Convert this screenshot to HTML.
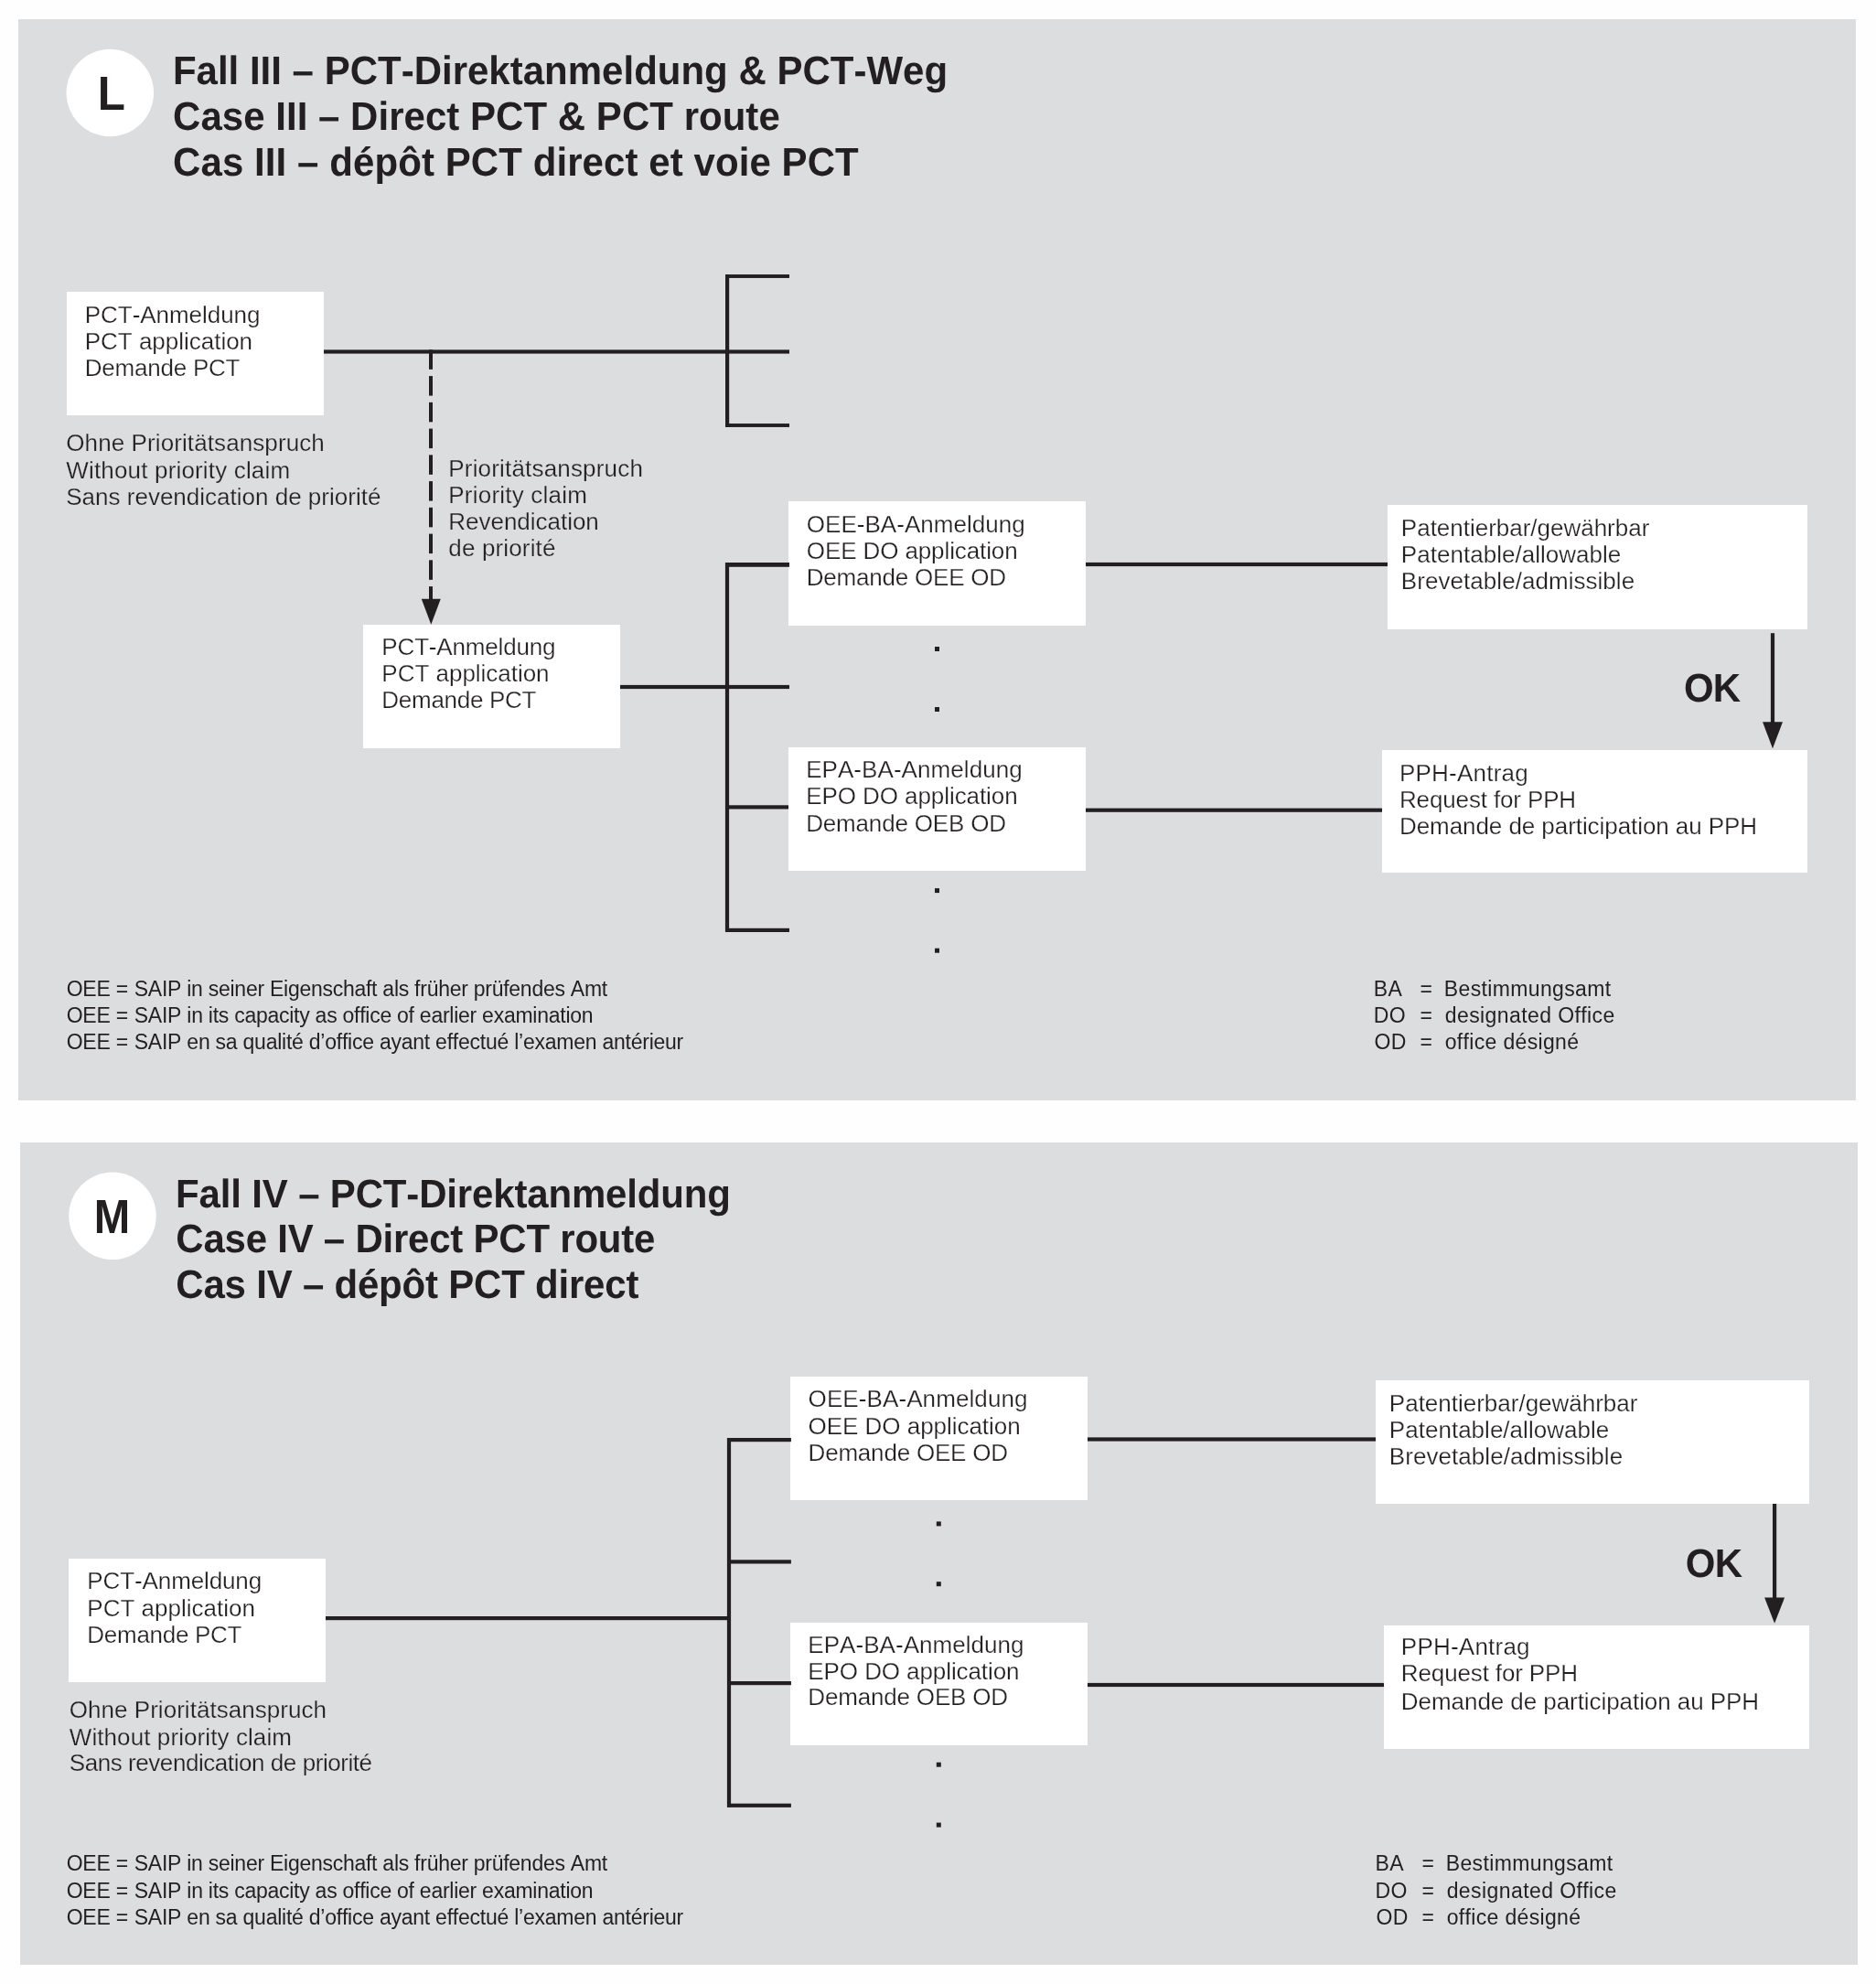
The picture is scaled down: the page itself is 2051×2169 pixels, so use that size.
<!DOCTYPE html>
<html><head><meta charset="utf-8"><title>Fall III / Fall IV</title>
<style>
html,body{margin:0;padding:0;background:#fefefe;}
body{width:2051px;height:2169px;overflow:hidden;}
svg{display:block;will-change:transform;}
text{font-family:"Liberation Sans",sans-serif;fill:#231f20;font-kerning:none;font-variant-ligatures:none;font-feature-settings:"liga" 0,"clig" 0;}
.t{font-size:42px;font-weight:bold;text-rendering:geometricPrecision;}
.big{font-size:52px;font-weight:bold;}
.b{font-size:26px;}
.ok{font-size:42px;font-weight:bold;text-rendering:geometricPrecision;}
.fn{font-size:23px;}
.fr{font-size:23px;}
</style></head>
<body>
<svg width="2051" height="2169" viewBox="0 0 2051 2169">
<rect x="20.00" y="21.00" width="2009.00" height="1182.00" fill="#dcdddf"/>
<rect x="22.00" y="1249.00" width="2009.00" height="899.00" fill="#dcdddf"/>
<rect x="73.00" y="319.00" width="281.00" height="135.00" fill="#ffffff"/>
<rect x="397.00" y="683.00" width="281.00" height="135.00" fill="#ffffff"/>
<rect x="862.00" y="548.00" width="325.00" height="136.00" fill="#ffffff"/>
<rect x="862.00" y="817.00" width="325.00" height="135.00" fill="#ffffff"/>
<rect x="1517.00" y="552.00" width="459.00" height="136.00" fill="#ffffff"/>
<rect x="1511.00" y="820.00" width="465.00" height="134.00" fill="#ffffff"/>
<rect x="75.00" y="1704.00" width="281.00" height="135.00" fill="#ffffff"/>
<rect x="864.00" y="1505.00" width="325.00" height="135.00" fill="#ffffff"/>
<rect x="864.00" y="1774.00" width="325.00" height="134.00" fill="#ffffff"/>
<rect x="1504.00" y="1509.00" width="474.00" height="135.00" fill="#ffffff"/>
<rect x="1513.00" y="1777.00" width="465.00" height="135.00" fill="#ffffff"/>
<circle cx="120.3" cy="101.5" r="47.75" fill="#fff"/>
<text x="121.90" y="119.80" class="big" text-anchor="middle" transform="translate(121.90 0) scale(0.95 1) translate(-121.90 0)">L</text>
<text x="188.89" y="91.80" class="t" transform="matrix(1 0 0 1.04 0 -3.672)" textLength="847.22" lengthAdjust="spacing">Fall III – PCT-Direktanmeldung &amp; PCT-Weg</text>
<text x="189.08" y="141.70" class="t" transform="matrix(1 0 0 1.04 0 -5.668)" textLength="663.66" lengthAdjust="spacing">Case III – Direct PCT &amp; PCT route</text>
<text x="189.08" y="191.70" class="t" transform="matrix(1 0 0 1.04 0 -7.668)" textLength="749.67" lengthAdjust="spacing">Cas III – dépôt PCT direct et voie PCT</text>
<text x="92.77" y="353.20" class="b" stroke="#fff" stroke-width="0.25" textLength="191.71" lengthAdjust="spacing">PCT-Anmeldung</text>
<text x="92.77" y="381.80" class="b" stroke="#fff" stroke-width="0.25" textLength="183.32" lengthAdjust="spacing">PCT application</text>
<text x="92.77" y="410.80" class="b" stroke="#fff" stroke-width="0.25" textLength="169.73" lengthAdjust="spacing">Demande PCT</text>
<text x="72.27" y="492.90" class="b" stroke="#dcdddf" stroke-width="0.25" textLength="282.52" lengthAdjust="spacing">Ohne Prioritätsanspruch</text>
<text x="72.27" y="522.80" class="b" stroke="#dcdddf" stroke-width="0.25" textLength="244.85" lengthAdjust="spacing">Without priority claim</text>
<text x="72.27" y="551.80" class="b" stroke="#dcdddf" stroke-width="0.25" textLength="344.09" lengthAdjust="spacing">Sans revendication de priorité</text>
<rect x="354.00" y="382.40" width="509.00" height="4.20" fill="#231f20"/>
<rect x="793.00" y="300.00" width="4.20" height="167.00" fill="#231f20"/>
<rect x="793.00" y="300.05" width="70.00" height="3.90" fill="#231f20"/>
<rect x="793.00" y="463.05" width="70.00" height="3.90" fill="#231f20"/>
<rect x="469.00" y="382.35" width="4.00" height="21.50" fill="#231f20"/>
<rect x="469.00" y="411.10" width="4.00" height="21.50" fill="#231f20"/>
<rect x="469.00" y="439.85" width="4.00" height="21.50" fill="#231f20"/>
<rect x="469.00" y="468.60" width="4.00" height="21.50" fill="#231f20"/>
<rect x="469.00" y="497.35" width="4.00" height="21.50" fill="#231f20"/>
<rect x="469.00" y="526.10" width="4.00" height="21.50" fill="#231f20"/>
<rect x="469.00" y="554.85" width="4.00" height="21.50" fill="#231f20"/>
<rect x="469.00" y="583.60" width="4.00" height="21.50" fill="#231f20"/>
<rect x="469.00" y="612.35" width="4.00" height="21.50" fill="#231f20"/>
<rect x="469.00" y="641.10" width="4.00" height="14.90" fill="#231f20"/>
<path d="M460.80 654.70 L481.80 654.70 L471.30 682.80 Z" fill="#231f20"/>
<text x="490.27" y="520.60" class="b" stroke="#dcdddf" stroke-width="0.25" textLength="212.62" lengthAdjust="spacing">Prioritätsanspruch</text>
<text x="490.27" y="549.60" class="b" stroke="#dcdddf" stroke-width="0.25" textLength="151.65" lengthAdjust="spacing">Priority claim</text>
<text x="490.27" y="578.60" class="b" stroke="#dcdddf" stroke-width="0.25" textLength="164.52" lengthAdjust="spacing">Revendication</text>
<text x="490.27" y="607.60" class="b" stroke="#dcdddf" stroke-width="0.25" textLength="117.19" lengthAdjust="spacing">de priorité</text>
<text x="417.37" y="715.60" class="b" stroke="#fff" stroke-width="0.25" textLength="190.21" lengthAdjust="spacing">PCT-Anmeldung</text>
<text x="417.37" y="744.60" class="b" stroke="#fff" stroke-width="0.25" textLength="183.22" lengthAdjust="spacing">PCT application</text>
<text x="417.37" y="773.60" class="b" stroke="#fff" stroke-width="0.25" textLength="169.13" lengthAdjust="spacing">Demande PCT</text>
<rect x="678.00" y="748.90" width="185.00" height="4.20" fill="#231f20"/>
<rect x="792.90" y="615.00" width="4.20" height="403.60" fill="#231f20"/>
<rect x="793.00" y="615.00" width="70.00" height="4.80" fill="#231f20"/>
<rect x="793.00" y="880.30" width="69.00" height="4.20" fill="#231f20"/>
<rect x="793.00" y="1014.80" width="70.00" height="4.20" fill="#231f20"/>
<text x="881.77" y="581.50" class="b" stroke="#fff" stroke-width="0.25" textLength="239.01" lengthAdjust="spacing">OEE-BA-Anmeldung</text>
<text x="881.77" y="610.70" class="b" stroke="#fff" stroke-width="0.25" textLength="230.92" lengthAdjust="spacing">OEE DO application</text>
<text x="881.77" y="639.60" class="b" stroke="#fff" stroke-width="0.25" textLength="218.28" lengthAdjust="spacing">Demande OEE OD</text>
<text x="881.17" y="849.70" class="b" stroke="#fff" stroke-width="0.25" textLength="236.51" lengthAdjust="spacing">EPA-BA-Anmeldung</text>
<text x="881.17" y="878.80" class="b" stroke="#fff" stroke-width="0.25" textLength="231.52" lengthAdjust="spacing">EPO DO application</text>
<text x="881.17" y="908.60" class="b" stroke="#fff" stroke-width="0.25" textLength="218.88" lengthAdjust="spacing">Demande OEB OD</text>
<rect x="1187.00" y="614.90" width="330.00" height="4.20" fill="#231f20"/>
<rect x="1187.00" y="883.60" width="324.00" height="4.20" fill="#231f20"/>
<text x="1531.87" y="586.00" class="b" stroke="#fff" stroke-width="0.25" textLength="271.46" lengthAdjust="spacing">Patentierbar/gewährbar</text>
<text x="1531.87" y="614.70" class="b" stroke="#fff" stroke-width="0.25" textLength="240.39" lengthAdjust="spacing">Patentable/allowable</text>
<text x="1531.87" y="643.80" class="b" stroke="#fff" stroke-width="0.25" textLength="255.29" lengthAdjust="spacing">Brevetable/admissible</text>
<text x="1529.97" y="853.60" class="b" stroke="#fff" stroke-width="0.25" textLength="140.81" lengthAdjust="spacing">PPH-Antrag</text>
<text x="1529.97" y="882.70" class="b" stroke="#fff" stroke-width="0.25" textLength="193.15" lengthAdjust="spacing">Request for PPH</text>
<text x="1529.97" y="911.70" class="b" stroke="#fff" stroke-width="0.25" textLength="391.15" lengthAdjust="spacing">Demande de participation au PPH</text>
<rect x="1935.90" y="692.20" width="4.20" height="97.80" fill="#231f20"/>
<path d="M1927.00 789.20 L1949.00 789.20 L1938.00 818.20 Z" fill="#231f20"/>
<text x="1840.88" y="767.00" class="ok" transform="matrix(1 0 0 1.04 0 -30.680)" textLength="62.21" lengthAdjust="spacing">OK</text>
<rect x="1022.00" y="707.00" width="5.00" height="5.00" fill="#231f20"/>
<rect x="1022.00" y="773.00" width="5.00" height="5.00" fill="#231f20"/>
<rect x="1022.00" y="971.10" width="5.00" height="5.00" fill="#231f20"/>
<rect x="1022.00" y="1036.70" width="5.00" height="5.00" fill="#231f20"/>
<text x="72.71" y="1088.90" class="fn" letter-spacing="-0.25">OEE =</text>
<text x="146.76" y="1088.90" class="fn" textLength="517.41" lengthAdjust="spacing">SAIP in seiner Eigenschaft als früher prüfendes Amt</text>
<text x="72.71" y="1117.80" class="fn" letter-spacing="-0.25">OEE =</text>
<text x="146.76" y="1117.80" class="fn" textLength="501.84" lengthAdjust="spacing">SAIP in its capacity as office of earlier examination</text>
<text x="72.71" y="1146.60" class="fn" letter-spacing="-0.25">OEE =</text>
<text x="146.76" y="1146.60" class="fn" textLength="600.53" lengthAdjust="spacing">SAIP en sa qualité d’office ayant effectué l’examen antérieur</text>
<text x="1501.71" y="1088.90" class="fr" letter-spacing="0.4">BA</text>
<text x="1552.48" y="1088.90" class="fr">=</text>
<text x="1578.81" y="1088.90" class="fr" textLength="182.36" lengthAdjust="spacing">Bestimmungsamt</text>
<text x="1501.71" y="1117.80" class="fr" letter-spacing="0.4">DO</text>
<text x="1552.48" y="1117.80" class="fr">=</text>
<text x="1579.73" y="1117.80" class="fr" textLength="185.59" lengthAdjust="spacing">designated Office</text>
<text x="1502.51" y="1146.60" class="fr" letter-spacing="0.4">OD</text>
<text x="1552.48" y="1146.60" class="fr">=</text>
<text x="1579.73" y="1146.60" class="fr" textLength="146.29" lengthAdjust="spacing">office désigné</text>
<circle cx="123" cy="1329.3" r="47.75" fill="#fff"/>
<text x="122.45" y="1348.00" class="big" text-anchor="middle" transform="translate(122.45 0) scale(0.91 1) translate(-122.45 0)">M</text>
<text x="192.09" y="1319.90" class="t" transform="matrix(1 0 0 1.04 0 -52.796)" textLength="606.82" lengthAdjust="spacing">Fall IV – PCT-Direktanmeldung</text>
<text x="192.28" y="1369.50" class="t" transform="matrix(1 0 0 1.04 0 -54.780)" textLength="524.06" lengthAdjust="spacing">Case IV – Direct PCT route</text>
<text x="192.28" y="1419.40" class="t" transform="matrix(1 0 0 1.04 0 -56.776)" textLength="506.14" lengthAdjust="spacing">Cas IV – dépôt PCT direct</text>
<text x="95.37" y="1736.90" class="b" stroke="#fff" stroke-width="0.25" textLength="190.81" lengthAdjust="spacing">PCT-Anmeldung</text>
<text x="95.37" y="1766.80" class="b" stroke="#fff" stroke-width="0.25" textLength="183.62" lengthAdjust="spacing">PCT application</text>
<text x="95.37" y="1795.70" class="b" stroke="#fff" stroke-width="0.25" textLength="169.13" lengthAdjust="spacing">Demande PCT</text>
<text x="75.77" y="1877.50" class="b" stroke="#dcdddf" stroke-width="0.25" textLength="281.12" lengthAdjust="spacing">Ohne Prioritätsanspruch</text>
<text x="75.77" y="1907.60" class="b" stroke="#dcdddf" stroke-width="0.25" textLength="243.15" lengthAdjust="spacing">Without priority claim</text>
<text x="75.77" y="1936.30" class="b" stroke="#dcdddf" stroke-width="0.25" textLength="331.29" lengthAdjust="spacing">Sans revendication de priorité</text>
<rect x="356.00" y="1767.00" width="441.00" height="4.20" fill="#231f20"/>
<rect x="794.90" y="1572.00" width="4.20" height="403.60" fill="#231f20"/>
<rect x="795.00" y="1572.00" width="69.90" height="4.20" fill="#231f20"/>
<rect x="795.00" y="1705.30" width="69.90" height="4.20" fill="#231f20"/>
<rect x="795.00" y="1838.00" width="69.90" height="4.20" fill="#231f20"/>
<rect x="795.00" y="1971.70" width="69.90" height="4.20" fill="#231f20"/>
<text x="883.57" y="1538.00" class="b" stroke="#fff" stroke-width="0.25" textLength="239.91" lengthAdjust="spacing">OEE-BA-Anmeldung</text>
<text x="883.57" y="1567.60" class="b" stroke="#fff" stroke-width="0.25" textLength="232.12" lengthAdjust="spacing">OEE DO application</text>
<text x="883.57" y="1596.50" class="b" stroke="#fff" stroke-width="0.25" textLength="218.48" lengthAdjust="spacing">Demande OEE OD</text>
<text x="883.37" y="1806.80" class="b" stroke="#fff" stroke-width="0.25" textLength="236.11" lengthAdjust="spacing">EPA-BA-Anmeldung</text>
<text x="883.37" y="1835.70" class="b" stroke="#fff" stroke-width="0.25" textLength="231.12" lengthAdjust="spacing">EPO DO application</text>
<text x="883.37" y="1864.30" class="b" stroke="#fff" stroke-width="0.25" textLength="218.68" lengthAdjust="spacing">Demande OEB OD</text>
<rect x="1189.00" y="1571.40" width="315.00" height="4.20" fill="#231f20"/>
<rect x="1189.00" y="1839.90" width="324.00" height="4.20" fill="#231f20"/>
<text x="1518.87" y="1542.80" class="b" stroke="#fff" stroke-width="0.25" textLength="271.56" lengthAdjust="spacing">Patentierbar/gewährbar</text>
<text x="1518.87" y="1571.90" class="b" stroke="#fff" stroke-width="0.25" textLength="240.29" lengthAdjust="spacing">Patentable/allowable</text>
<text x="1518.87" y="1600.90" class="b" stroke="#fff" stroke-width="0.25" textLength="255.29" lengthAdjust="spacing">Brevetable/admissible</text>
<text x="1531.87" y="1809.30" class="b" stroke="#fff" stroke-width="0.25" textLength="140.71" lengthAdjust="spacing">PPH-Antrag</text>
<text x="1531.87" y="1838.30" class="b" stroke="#fff" stroke-width="0.25" textLength="193.15" lengthAdjust="spacing">Request for PPH</text>
<text x="1531.87" y="1868.80" class="b" stroke="#fff" stroke-width="0.25" textLength="391.25" lengthAdjust="spacing">Demande de participation au PPH</text>
<rect x="1938.00" y="1644.00" width="4.20" height="103.00" fill="#231f20"/>
<path d="M1929.10 1746.40 L1951.10 1746.40 L1940.10 1774.80 Z" fill="#231f20"/>
<text x="1842.78" y="1724.20" class="ok" transform="matrix(1 0 0 1.04 0 -68.968)" textLength="62.21" lengthAdjust="spacing">OK</text>
<rect x="1023.80" y="1663.40" width="5.00" height="5.00" fill="#231f20"/>
<rect x="1023.80" y="1729.20" width="5.00" height="5.00" fill="#231f20"/>
<rect x="1023.80" y="1926.70" width="5.00" height="5.00" fill="#231f20"/>
<rect x="1023.80" y="1992.60" width="5.00" height="5.00" fill="#231f20"/>
<text x="72.71" y="2044.90" class="fn" letter-spacing="-0.25">OEE =</text>
<text x="146.76" y="2044.90" class="fn" textLength="517.41" lengthAdjust="spacing">SAIP in seiner Eigenschaft als früher prüfendes Amt</text>
<text x="72.71" y="2074.60" class="fn" letter-spacing="-0.25">OEE =</text>
<text x="146.76" y="2074.60" class="fn" textLength="501.84" lengthAdjust="spacing">SAIP in its capacity as office of earlier examination</text>
<text x="72.71" y="2103.50" class="fn" letter-spacing="-0.25">OEE =</text>
<text x="146.76" y="2103.50" class="fn" textLength="600.53" lengthAdjust="spacing">SAIP en sa qualité d’office ayant effectué l’examen antérieur</text>
<text x="1503.61" y="2044.90" class="fr" letter-spacing="0.4">BA</text>
<text x="1554.38" y="2044.90" class="fr">=</text>
<text x="1580.71" y="2044.90" class="fr" textLength="182.46" lengthAdjust="spacing">Bestimmungsamt</text>
<text x="1503.61" y="2074.60" class="fr" letter-spacing="0.4">DO</text>
<text x="1554.38" y="2074.60" class="fr">=</text>
<text x="1581.63" y="2074.60" class="fr" textLength="185.69" lengthAdjust="spacing">designated Office</text>
<text x="1504.41" y="2103.50" class="fr" letter-spacing="0.4">OD</text>
<text x="1554.38" y="2103.50" class="fr">=</text>
<text x="1581.63" y="2103.50" class="fr" textLength="146.39" lengthAdjust="spacing">office désigné</text>
</svg>
</body></html>
